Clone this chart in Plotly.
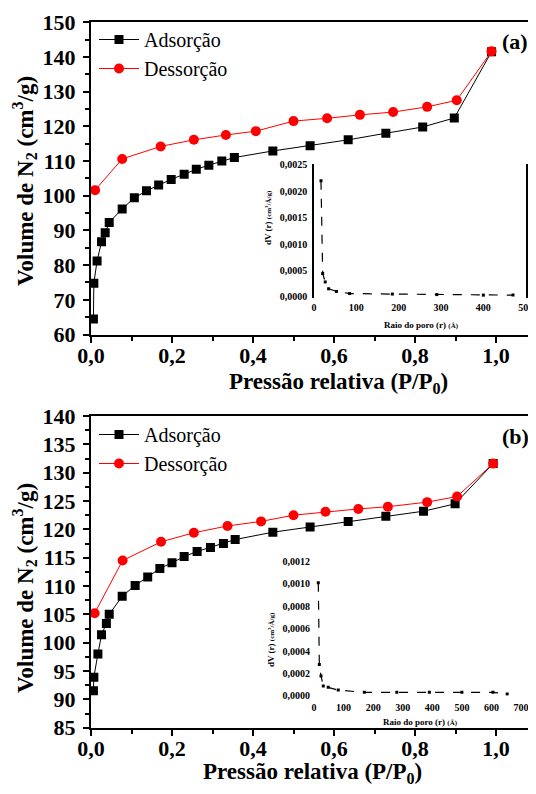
import plotly.graph_objects as go

# ---------------- data ----------------
# Panel (a) main isotherm
a_ads_x = [0.006, 0.007, 0.015, 0.026, 0.035, 0.045, 0.077, 0.107, 0.137, 0.167, 0.198,
           0.230, 0.260, 0.291, 0.323, 0.354, 0.449, 0.541, 0.635, 0.728, 0.819, 0.897, 0.989]
a_ads_y = [64.5, 74.8, 81.2, 86.7, 89.3, 92.3, 96.2, 99.4, 101.4, 103.1, 104.7,
           106.2, 107.6, 108.8, 110.0, 111.0, 112.9, 114.4, 116.1, 118.0, 119.8, 122.4, 141.5]
a_des_x = [0.010, 0.077, 0.172, 0.254, 0.333, 0.407, 0.500, 0.583, 0.664, 0.746, 0.830, 0.903, 0.989]
a_des_y = [101.6, 110.6, 114.2, 116.1, 117.5, 118.6, 121.5, 122.3, 123.3, 124.1, 125.6, 127.5, 141.6]

# Panel (a) inset: pore size distribution
a_psd_r = [16.5, 20.5, 26.5, 34.5, 53, 84, 185, 290, 400, 470]
a_psd_dv = [0.0022, 0.00044, 0.00028, 0.00015, 0.00010, 0.00006, 0.00005, 0.00004, 0.00003, 0.00003]

# Panel (b) main isotherm
b_ads_x = [0.006, 0.007, 0.017, 0.026, 0.038, 0.045, 0.077, 0.109, 0.140, 0.170, 0.200,
           0.230, 0.262, 0.295, 0.327, 0.356, 0.449, 0.541, 0.635, 0.728, 0.821, 0.899, 0.993]
b_ads_y = [91.5, 93.9, 98.0, 101.4, 103.4, 105.0, 108.2, 110.1, 111.6, 113.1, 114.1,
           115.2, 116.1, 116.8, 117.5, 118.2, 119.5, 120.4, 121.4, 122.3, 123.2, 124.5, 131.6]
b_des_x = [0.009, 0.078, 0.173, 0.254, 0.337, 0.420, 0.500, 0.579, 0.660, 0.733, 0.830, 0.904, 0.993]
b_des_y = [105.2, 114.5, 117.8, 119.4, 120.6, 121.4, 122.5, 123.1, 123.6, 124.0, 124.8, 125.8, 131.6]

# Panel (b) inset
b_psd_r = [14.5, 18, 23.6, 31.4, 48, 82, 170, 280, 390, 500, 605, 653]
b_psd_dv = [0.00101, 0.00028, 0.000177, 0.000087, 0.000075, 0.00005, 0.00003, 0.00003,
            0.00003, 0.00003, 0.00003, 0.000015]

main_x_ticks = [0.0, 0.2, 0.4, 0.6, 0.8, 1.0]
a_y_ticks = [60, 70, 80, 90, 100, 110, 120, 130, 140, 150]
b_y_ticks = [85, 90, 95, 100, 105, 110, 115, 120, 125, 130, 135, 140]
a_in_x_ticks = [0, 100, 200, 300, 400, 500]
a_in_y_ticks = [0.0, 0.0005, 0.0010, 0.0015, 0.0020, 0.0025]
b_in_x_ticks = [0, 100, 200, 300, 400, 500, 600, 700]
b_in_y_ticks = [0.0, 0.0002, 0.0004, 0.0006, 0.0008, 0.0010, 0.0012]

# ---------------- figure ----------------
OFF = 8                      # default page body margin
W, H = 536 - OFF, 794 - 2 * OFF   # figure size so the page does not overflow
SERIF = "Liberation Serif"

def px_x(x):
    return (x - OFF) / W

def px_y(y):
    return 1 - (y - OFF) / H

fig = go.Figure()

red = "#ff0000"
blk = "#000000"

def add_iso(xs, ys, name, color, symbol, size, xa, ya, legend):
    fig.add_trace(go.Scatter(
        x=xs, y=ys, name=name, mode="lines+markers",
        line=dict(color=color, width=1),
        marker=dict(symbol=symbol, size=size, color=color),
        xaxis=xa, yaxis=ya, legend=legend))

add_iso(a_ads_x, a_ads_y, "Adsorção", blk, "square", 9, "x", "y", "legend")
add_iso(a_des_x, a_des_y, "Dessorção", red, "circle", 10, "x", "y", "legend")
add_iso(b_ads_x, b_ads_y, "Adsorção", blk, "square", 9, "x2", "y2", "legend2")
add_iso(b_des_x, b_des_y, "Dessorção", red, "circle", 10, "x2", "y2", "legend2")

fig.add_trace(go.Scatter(x=a_psd_r, y=a_psd_dv, mode="lines+markers", showlegend=False,
                         line=dict(color=blk, width=1.2, dash="dash"),
                         marker=dict(symbol="square", size=3, color=blk),
                         xaxis="x3", yaxis="y3"))
fig.add_trace(go.Scatter(x=b_psd_r, y=b_psd_dv, mode="lines+markers", showlegend=False,
                         line=dict(color=blk, width=1.2, dash="dash"),
                         marker=dict(symbol="square", size=3, color=blk),
                         xaxis="x4", yaxis="y4"))

tickfont_main = dict(family=SERIF, size=22, color=blk, weight="bold")
tickfont_in = dict(family=SERIF, size=10, color=blk, weight="bold")

main_x_dom = [px_x(91), 1.0]
x_rng = [0, (536 - 91) / 405]

def main_x(anchor):
    return dict(domain=main_x_dom, range=x_rng, anchor=anchor,
                tickvals=main_x_ticks, tickformat=".1f",
                showline=True, linecolor=blk, linewidth=2, mirror=True,
                ticks="outside", ticklen=6, tickwidth=2, tickcolor=blk,
                minor=dict(dtick=0.1, tick0=0, ticks="outside", ticklen=4, tickwidth=2, tickcolor=blk),
                tickfont=tickfont_main, showgrid=False, zeroline=False, automargin=False,
                ticklabelstandoff=-6)

def main_y(anchor, dom, rng, tv, minor_dt):
    return dict(domain=dom, range=rng, anchor=anchor, tickvals=tv,
                showline=True, linecolor=blk, linewidth=2, mirror=False,
                ticks="outside", ticklen=6, tickwidth=2, tickcolor=blk,
                minor=dict(dtick=minor_dt, tick0=rng[0], ticks="outside", ticklen=4, tickwidth=2, tickcolor=blk),
                tickfont=tickfont_main, showgrid=False, zeroline=False, automargin=False,
                ticklabelstandoff=3)

fig.update_layout(
    width=W, height=H, autosize=False,
    margin=dict(l=0, r=0, t=0, b=0),
    paper_bgcolor="white", plot_bgcolor="rgba(0,0,0,0)",
    separators=", ",
    template="none",
    xaxis=main_x("y"),
    yaxis=main_y("x", [px_y(334.5), px_y(22.2)], [60, 150], a_y_ticks, 5),
    xaxis2=main_x("y2"),
    yaxis2=main_y("x2", [px_y(727.7), px_y(416)], [85, 140], b_y_ticks, 2.5),
    xaxis3=dict(domain=[px_x(314), px_x(525.7)], range=[0, 500], anchor="y3",
                tickvals=a_in_x_ticks, showline=False, ticks="", tickfont=tickfont_in,
                showgrid=False, zeroline=False, automargin=False, ticklabelstandoff=2),
    yaxis3=dict(domain=[px_y(298), px_y(164)], range=[-0.0000247, 0.002518], anchor="x3",
                tickvals=a_in_y_ticks, tickformat=".4f", showline=True, linecolor=blk,
                linewidth=1.5, mirror=True, ticks="", tickfont=tickfont_in,
                showgrid=False, zeroline=False, automargin=False, ticklabelstandoff=3),
    xaxis4=dict(domain=[px_x(314), px_x(527)], range=[0, 720], anchor="y4",
                tickvals=b_in_x_ticks, showline=False, ticks="", tickfont=tickfont_in,
                showgrid=False, zeroline=False, automargin=False, ticklabelstandoff=4),
    yaxis4=dict(domain=[px_y(695.7), px_y(556)], range=[0, 0.00125], anchor="x4",
                tickvals=b_in_y_ticks, tickformat=".4f", showline=False,
                ticks="", tickfont=tickfont_in,
                showgrid=False, zeroline=False, automargin=False, ticklabelstandoff=3),
    legend=dict(x=px_x(94), y=px_y(20), xanchor="left", yanchor="top",
                bgcolor="rgba(0,0,0,0)", itemwidth=40, tracegroupgap=0,
                font=dict(family=SERIF, size=20, color=blk)),
    legend2=dict(x=px_x(94), y=px_y(415), xanchor="left", yanchor="top",
                 bgcolor="rgba(0,0,0,0)", itemwidth=40, tracegroupgap=0,
                 font=dict(family=SERIF, size=20, color=blk)),
)

title_font = dict(family=SERIF, size=23, color=blk, weight="bold")
ann = []
for yc in (181, 588):
    ann.append(dict(text="Volume de N<sub>2</sub> (cm<sup>3</sup>/g)", x=px_x(24), y=px_y(yc),
                    xref="paper", yref="paper", textangle=-90, showarrow=False,
                    xanchor="center", yanchor="middle", font=title_font))
for xc, yc in ((338, 383), (312, 773)):
    ann.append(dict(text="Pressão relativa (P/P<sub>0</sub>)", x=px_x(xc), y=px_y(yc),
                    xref="paper", yref="paper", showarrow=False,
                    xanchor="center", yanchor="middle", font=title_font))
for t, yc in (("(a)", 42), ("(b)", 437)):
    ann.append(dict(text=t, x=px_x(515), y=px_y(yc), xref="paper", yref="paper",
                    showarrow=False, xanchor="center", yanchor="middle",
                    font=dict(family=SERIF, size=22, color=blk, weight="bold")))
in_font = dict(family=SERIF, size=9, color=blk, weight="bold")
for xc, yc in ((268, 218), (271, 640)):
    ann.append(dict(text="dV (r) <span style='font-size:7px'>(cm<sup>3</sup>/Å/g)</span>",
                    x=px_x(xc), y=px_y(yc), xref="paper", yref="paper", textangle=-90,
                    showarrow=False, xanchor="center", yanchor="middle", font=in_font))
for xc, yc in ((421, 325), (420, 722)):
    ann.append(dict(text="Raio do poro (r) <span style='font-size:7px'>(Å)</span>",
                    x=px_x(xc), y=px_y(yc), xref="paper", yref="paper",
                    showarrow=False, xanchor="center", yanchor="middle", font=in_font))
fig.update_layout(annotations=ann)

fig.write_html("out.html")
